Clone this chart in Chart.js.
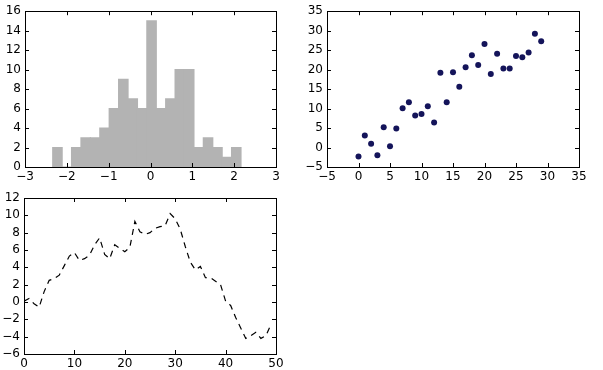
<!DOCTYPE html>
<html lang="en">
<head>
<meta charset="UTF-8">
<title>Subplots</title>
<script src="https://cdn.jsdelivr.net/npm/chart.js"></script>
<style>
  body { margin: 0; background: #fff; }
  .wrap { position: relative; width: 603px; height: 370px; }
  canvas { position: absolute; }
</style>
</head>
<body>
<div class="wrap">
  <canvas id="hist" width="300" height="185" style="left:0;top:0"></canvas>
  <canvas id="scatter" width="303" height="185" style="left:300px;top:0"></canvas>
  <canvas id="walk" width="300" height="185" style="left:0;top:185px"></canvas>
</div>
<script>
// histogram: 20 bins from -2.337, width 0.225
const histStart = -2.337;
const histWidth = 0.225;
const histCounts = [2, 0, 2, 3, 3, 4, 6, 9, 7, 6, 15, 6, 7, 10, 10, 2, 3, 2, 1, 2];

// scatter
const scatterX = [0,1,2,3,4,5,6,7,8,9,10,11,12,13,14,15,16,17,18,19,20,21,22,23,24,25,26,27,28,29];
const scatterY = [-2.3, 3.1, 1.0, -2.0, 5.2, 0.3, 4.9, 10.1, 11.6, 8.2, 8.6, 10.6, 6.4, 19.2, 11.6,
                  19.3, 15.6, 20.6, 23.7, 21.2, 26.6, 18.9, 24.1, 20.3, 20.3, 23.5, 23.2, 24.4, 29.2, 27.3];

// random walk (dashed line)
const walkY = [0.1, 0.4, -0.2, -0.6, 1.2, 2.5, 2.7, 3.1, 4.2, 5.3, 5.7, 4.8, 5.0, 5.4, 6.6,
               7.4, 5.5, 5.0, 6.6, 6.2, 5.8, 6.3, 9.3, 8.1, 7.8, 8.0, 8.5, 8.7, 8.8, 10.2,
               9.6, 8.4, 6.4, 4.6, 3.7, 4.1, 2.8, 2.8, 2.4, 2.0, 0.1, -0.4, -1.8, -3.0, -4.2,
               -3.9, -3.5, -4.2, -3.9, -2.6];

Chart.defaults.font.family = "'DejaVu Sans', sans-serif";
Chart.defaults.font.size = 12;
Chart.defaults.color = '#000';
Chart.defaults.animation = false;

const frame = {
  id: 'frame',
  afterDraw(chart) {
    const ctx = chart.ctx, a = chart.chartArea;
    const xs = chart.scales.x, ys = chart.scales.y;
    const len = 4;
    ctx.save();
    ctx.strokeStyle = '#000';
    ctx.lineWidth = 1;
    ctx.beginPath();
    xs.ticks.forEach(t => {
      const px = Math.round(xs.getPixelForValue(t.value)) + 0.5;
      ctx.moveTo(px, a.bottom); ctx.lineTo(px, a.bottom - len);
      ctx.moveTo(px, a.top); ctx.lineTo(px, a.top + len);
    });
    ys.ticks.forEach(t => {
      const py = Math.round(ys.getPixelForValue(t.value)) + 0.5;
      ctx.moveTo(a.left, py); ctx.lineTo(a.left + len, py);
      ctx.moveTo(a.right, py); ctx.lineTo(a.right - len, py);
    });
    ctx.stroke();
    ctx.strokeRect(Math.round(a.left) + 0.5, Math.round(a.top) + 0.5,
                   Math.round(a.right - a.left), Math.round(a.bottom - a.top));
    ctx.restore();
  }
};

function fmt(v) {
  return String(v).replace('-', '\u2212');
}

function axes(xMin, xMax, xStep, yMin, yMax, yStep, yWidth, xHeight) {
  return {
    x: {
      type: 'linear', min: xMin, max: xMax, offset: false,
      grid: { display: false, drawTicks: false }, border: { display: false },
      ticks: { stepSize: xStep, padding: 3, autoSkip: false, maxRotation: 0, callback: fmt },
      afterFit: s => { s.height = xHeight; }
    },
    y: {
      type: 'linear', min: yMin, max: yMax,
      grid: { display: false, drawTicks: false }, border: { display: false },
      ticks: { stepSize: yStep, padding: 4, autoSkip: false, callback: fmt },
      afterFit: s => { s.width = yWidth; }
    }
  };
}

const histData = histCounts.map((c, i) => ({ x: histStart + histWidth * (i + 0.5), y: c }));

new Chart(document.getElementById('hist'), {
  type: 'bar',
  data: {
    datasets: [{
      data: histData,
      backgroundColor: '#b3b3b3',
      borderWidth: 0,
      inflateAmount: 0.6,
      barPercentage: 1,
      categoryPercentage: 1
    }]
  },
  options: {
    responsive: false,
    layout: { padding: { top: 10, right: 24, left: 0, bottom: 0 } },
    plugins: { legend: { display: false }, tooltip: { enabled: false } },
    scales: axes(-3, 3, 1, 0, 16, 2, 25, 18)
  },
  plugins: [frame]
});

new Chart(document.getElementById('scatter'), {
  type: 'scatter',
  data: {
    datasets: [{
      data: scatterX.map((x, i) => ({ x: x, y: scatterY[i] })),
      backgroundColor: '#14145a',
      borderWidth: 0,
      pointRadius: 3
    }]
  },
  options: {
    responsive: false,
    layout: { padding: { top: 10, right: 24, left: 0, bottom: 0 } },
    plugins: { legend: { display: false }, tooltip: { enabled: false } },
    scales: axes(-5, 35, 5, -5, 35, 5, 27, 18)
  },
  plugins: [frame]
});

new Chart(document.getElementById('walk'), {
  type: 'line',
  data: {
    datasets: [{
      data: walkY.map((y, i) => ({ x: i, y: y })),
      borderColor: '#000',
      borderWidth: 1.2,
      borderDash: [6, 5],
      pointRadius: 0,
      tension: 0,
      fill: false
    }]
  },
  options: {
    responsive: false,
    layout: { padding: { top: 13, right: 24, left: 0, bottom: 0 } },
    plugins: { legend: { display: false }, tooltip: { enabled: false } },
    scales: axes(0, 50, 10, -6, 12, 2, 24, 16)
  },
  plugins: [frame]
});
</script>
</body>
</html>
